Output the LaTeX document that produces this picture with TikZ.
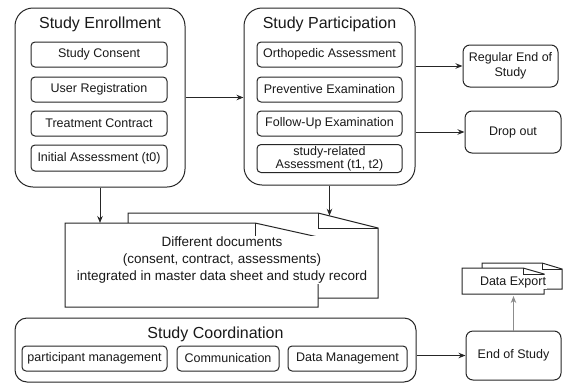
\documentclass[tikz,border=0pt]{standalone}
\usepackage{fontspec}
\setmainfont{Liberation Sans}
\usetikzlibrary{arrows.meta}
\begin{document}
\begin{tikzpicture}[x=1pt,y=-1pt,
  line/.style={draw=black!85, line width=1pt},
  group/.style={line, rounded corners=18pt, fill=white, inner sep=0pt},
  item/.style={line, rounded corners=4pt, inner sep=0pt, align=center,
    font=\fontsize{12.5}{13.5}\selectfont, text=black!90},
  title/.style={inner sep=0pt, font=\fontsize{16}{19}\selectfont, text=black!90},
  arr/.style={line, -{Stealth[length=7pt,width=5.5pt]}},
  page/.style={line, fill=white, line join=miter},
  lbl/.style={fill=white, inner sep=1pt, align=center, text=black!90}]
\useasboundingbox (0,0) rectangle (564,383);

% Study Enrollment group
\node[group, minimum width=170pt, minimum height=179pt] (enroll) at (100,97.5) {};
\node[title] (enrollT) at (100,24) {Study Enrollment};
\node[item, minimum width=136pt, minimum height=25pt] (consent) at (99,54.5) {Study Consent};
\node[item, minimum width=136pt, minimum height=25pt] (register) at (99,89.5) {User Registration};
\node[item, minimum width=136pt, minimum height=25pt] (contract) at (99,123.5) {Treatment Contract};
\node[item, minimum width=136pt, minimum height=26pt] (initial) at (99,158) {Initial Assessment (t0)};

% Study Participation group
\node[group, minimum width=171pt, minimum height=177pt] (part) at (329.5,96.5) {};
\node[title] (partT) at (329.5,24) {Study Participation};
\node[item, minimum width=145pt, minimum height=25pt] (ortho) at (329.5,54.5) {Orthopedic Assessment};
\node[item, minimum width=145pt, minimum height=25pt] (prev) at (329.5,89.5) {Preventive Examination};
\node[item, minimum width=145pt, minimum height=25pt] (follow) at (329.5,123.5) {Follow-Up Examination};
\node[item, minimum width=145pt, minimum height=28pt, font=\fontsize{12.5}{12.8}\selectfont]
  (related) at (329.5,158.5) {study-related\\Assessment (t1, t2)};

% Outcomes of participation
\node[item, rounded corners=7pt, minimum width=95pt, minimum height=42pt,
  font=\fontsize{12.5}{15.5}\selectfont] (regular) at (510.5,66) {Regular End of\\Study};
\node[item, rounded corners=7pt, minimum width=96pt, minimum height=42pt] (drop) at (513,132) {Drop out};

% Stacked documents
\draw[page] (128,213) -- (318,213) -- (378,228) -- (378,298) -- (128,298) -- cycle;
\draw[line] (318,213) -- (318,228) -- (378,228);
\draw[page] (65,223) -- (255,223) -- (318,237) -- (318,307) -- (65,307) -- cycle;
\draw[line] (255,223) -- (255,237) -- (318,237);
\node[lbl, font=\fontsize{13.5}{17}\selectfont] (docs) at (222,260)
  {Different documents\\(consent, contract, assessments)\\integrated in master data sheet and study record};
\coordinate (docsFront) at (99,223);
\coordinate (docsBack) at (329.5,215.7);

% Study Coordination group
\node[group, rounded corners=12pt, minimum width=401pt, minimum height=64pt] (coord) at (215.5,350) {};
\node[title] (coordT) at (215.5,334) {Study Coordination};
\node[item, minimum width=145pt, minimum height=25pt] (pm) at (94.5,358.5) {participant management};
\node[item, minimum width=102pt, minimum height=25pt] (comm) at (228,358.5) {Communication};
\node[item, minimum width=119pt, minimum height=25pt] (dm) at (347.5,358.5) {Data Management};

% End of study and export
\node[item, rounded corners=7pt, minimum width=95pt, minimum height=49pt] (eos) at (513.5,355.5) {End of Study};
\draw[page] (482,263) -- (542,263) -- (562,269) -- (562,289) -- (482,289) -- cycle;
\draw[line] (542,263) -- (542,269) -- (562,269);
\draw[page] (462,268) -- (523,268) -- (544,274) -- (544,294) -- (462,294) -- cycle;
\draw[line] (523,268) -- (523,274) -- (544,274);
\node[lbl, font=\fontsize{12.5}{15}\selectfont] (export) at (513,282) {Data Export};
\coordinate (exportBottom) at (513.5,296);

% Connectors
\draw[arr] (enroll.east) -- (enroll.east -| part.west);
\draw[arr] (regular.west -| part.east) -- (regular.west);
\draw[arr] (drop.west -| part.east) -- (drop.west);
\draw[arr] (enroll.south) -- (enroll.south |- docsFront);
\draw[arr] (part.south) -- (docsBack);
\draw[arr] (eos.west -| coord.east) -- (eos.west);
\draw[line, draw=black!45, -{Stealth[length=7pt,width=5.5pt]}] (eos.north) -- (exportBottom);
\end{tikzpicture}
\end{document}
